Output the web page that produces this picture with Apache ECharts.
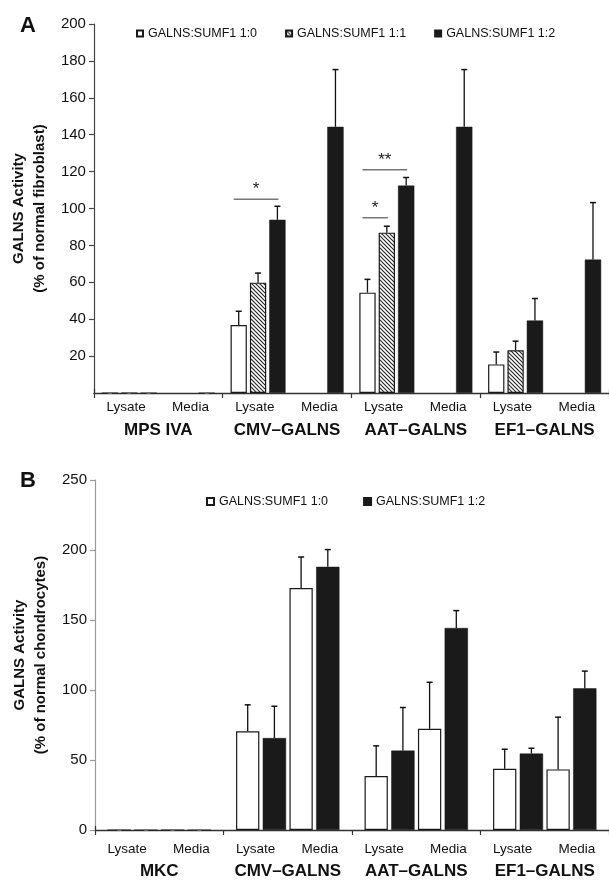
<!DOCTYPE html>
<html>
<head>
<meta charset="utf-8">
<script src="https://cdn.jsdelivr.net/npm/echarts@6/dist/echarts.min.js"></script>
<style>
html,body{margin:0;padding:0;background:#fff;}
#chart{width:609px;height:880px;}
</style>
</head>
<body>
<div id="chart"></div>
<script>
// ---------- DATA ----------
const groupsA = ['MPS IVA', 'CMV–GALNS', 'AAT–GALNS', 'EF1–GALNS'];
const groupsB = ['MKC', 'CMV–GALNS', 'AAT–GALNS', 'EF1–GALNS'];
const subLabels = ['Lysate', 'Media', 'Lysate', 'Media', 'Lysate', 'Media', 'Lysate', 'Media'];
const seriesNamesA = ['GALNS:SUMF1 1:0', 'GALNS:SUMF1 1:1', 'GALNS:SUMF1 1:2'];
const seriesNamesB = ['GALNS:SUMF1 1:0', 'GALNS:SUMF1 1:2'];

// Panel A (% of normal fibroblast)
const aLysate10 = [0, 36.8, 54.4, 15.5];
const aLysate10Err = [0, 7.5, 7.2, 6.7];
const aLysate11 = [0, 59.8, 86.9, 23.2];
const aLysate11Err = [0, 5.2, 3.5, 4.9];
const aLysate12 = [0, 93.9, 112.4, 39.3];
const aLysate12Err = [0, 7.3, 4.4, 11.9];
const aMedia10 = [null, null, null, null];
const aMedia10Err = [null, null, null, null];
const aMedia11 = [null, null, null, null];
const aMedia11Err = [null, null, null, null];
const aMedia12 = [0, 144.3, 144.3, 72.3];
const aMedia12Err = [0, 31.0, 31.0, 30.9];
const aYTicks = [0, 20, 40, 60, 80, 100, 120, 140, 160, 180, 200];

// significance brackets panel A: [group, y value, from slot, to slot]
const aSig = [[1, 105, 0, 2], [2, 95, 0, 1], [2, 121, 0, 2]];
const aSigLabels = ['*', '*', '**'];

// Panel B (% of normal chondrocytes)
const bLysate10 = [0, 70.5, 38.6, 43.8];
const bLysate10Err = [0, 18.9, 21.5, 13.9];
const bLysate12 = [0, 65.7, 56.7, 54.6];
const bLysate12Err = [0, 22.7, 30.8, 3.8];
const bMedia10 = [0, 172.8, 72.3, 43.3];
const bMedia10Err = [0, 22.2, 33.2, 37.3];
const bMedia12 = [0, 188.0, 144.3, 101.2];
const bMedia12Err = [0, 12.3, 12.4, 12.3];
const bYTicks = [0, 50, 100, 150, 200, 250];

// ---------- STYLE ----------
const FONT = '"Liberation Sans", Arial, Helvetica, sans-serif';
const INK = '#1a1a1a';

const pc = document.createElement('canvas');
pc.width = 4; pc.height = 4;
(function () {
  const c = pc.getContext('2d');
  c.fillStyle = '#ffffff'; c.fillRect(0, 0, 4, 4);
  c.strokeStyle = '#2a2a2a'; c.lineWidth = 1.2;
  c.beginPath();
  c.moveTo(-1, -1); c.lineTo(5, 5);
  c.moveTo(-3, 1); c.lineTo(3, 7);
  c.moveTo(1, -3); c.lineTo(7, 3);
  c.stroke();
})();
const hatch = { image: pc, repeat: 'repeat' };

const stWhite = { color: '#ffffff', borderColor: INK, borderWidth: 1.2 };
const stHatch = { color: hatch, borderColor: INK, borderWidth: 1.2 };
const stBlack = { color: INK, borderColor: INK, borderWidth: 0.5 };

const A = { w: 16.3, g: 3.05, n: 6 };
const B = { w: 23.3, g: 3.4, n: 4 };

function slotOffset(cfg, k) { return (k - (cfg.n - 1) / 2) * (cfg.w + cfg.g); }

function barSeries(name, data, style, gi, cfg) {
  return {
    type: 'bar', name: name, data: data,
    xAxisIndex: gi * 2, yAxisIndex: gi,
    barWidth: cfg.w, barGap: (cfg.g / cfg.w * 100).toFixed(1) + '%',
    itemStyle: style, silent: true, animation: false, z: 2
  };
}

function errSeries(vals, errs, slot, gi, cfg) {
  const d = [];
  vals.forEach((v, i) => { if (v != null && errs[i] != null) d.push([i, v, errs[i]]); });
  return {
    type: 'custom', xAxisIndex: gi * 2, yAxisIndex: gi, silent: true, animation: false, z: 3,
    data: d, encode: { x: 0, y: 1 },
    renderItem: function (params, api) {
      const i = api.value(0), v = api.value(1), e = api.value(2);
      const p0 = api.coord([i, v]);
      const p1 = api.coord([i, v + e]);
      const x = p0[0] + slotOffset(cfg, slot);
      const cap = e > 0 ? 3 : 2;
      const col = e > 0 ? '#111' : '#777';
      return {
        type: 'group', children: [
          { type: 'line', shape: { x1: x, y1: p0[1], x2: x, y2: p1[1] }, style: { stroke: col, lineWidth: 1.3 } },
          { type: 'line', shape: { x1: x - cap, y1: p1[1], x2: x + cap, y2: p1[1] }, style: { stroke: col, lineWidth: 1.5 } }
        ]
      };
    }
  };
}

function sigSeries(sig, labels, gi, cfg) {
  return {
    type: 'custom', xAxisIndex: gi * 2, yAxisIndex: gi, silent: true, animation: false, z: 3,
    data: sig, encode: { x: 0, y: 1 },
    renderItem: function (params, api) {
      const p = api.coord([api.value(0), api.value(1)]);
      const x1 = p[0] + slotOffset(cfg, api.value(2)) - 5;
      const x2 = p[0] + slotOffset(cfg, api.value(3)) + 1;
      return {
        type: 'group', children: [
          { type: 'line', shape: { x1: x1, y1: p[1], x2: x2, y2: p[1] }, style: { stroke: '#777', lineWidth: 1.5 } },
          { type: 'text', style: { text: labels[params.dataIndex], x: (x1 + x2) / 2, y: p[1] - 1,
            align: 'center', verticalAlign: 'bottom', fill: '#222', font: '17px ' + FONT } }
        ]
      };
    }
  };
}

function yAxis(gi, ticks, name, showMin, lineColor) {
  return {
    type: 'value', gridIndex: gi, min: ticks[0], max: ticks[ticks.length - 1],
    interval: ticks[1] - ticks[0],
    name: name, nameLocation: 'middle', nameGap: 41,
    nameTextStyle: { fontFamily: FONT, fontWeight: 'bold', fontSize: 15, color: '#111', lineHeight: 21 },
    axisLine: { show: true, lineStyle: { color: lineColor, width: 1.2 } },
    axisTick: { show: true, length: 5, lineStyle: { color: lineColor, width: 1.2 } },
    axisLabel: { showMinLabel: showMin, margin: 8, fontFamily: FONT, fontSize: 15, color: '#111' },
    splitLine: { show: false }
  };
}

function xAxes(gi, groups, subMargin, grpMargin) {
  return [
    {
      type: 'category', gridIndex: gi, data: groups, position: 'bottom',
      axisLine: { show: true, lineStyle: { color: '#333', width: 1.3 } },
      axisTick: { show: true, interval: 0, length: 5, lineStyle: { color: '#333', width: 1.2 } },
      axisLabel: { interval: 0, margin: grpMargin, fontFamily: FONT, fontWeight: 'bold', fontSize: 17, color: '#111' }
    },
    {
      type: 'category', gridIndex: gi, data: subLabels, position: 'bottom',
      axisLine: { show: false },
      axisTick: { show: true, inside: true, length: 4, interval: function (i) { return i === 1; },
        lineStyle: { color: '#333', width: 1.2 } },
      axisLabel: { margin: subMargin, fontFamily: FONT, fontSize: 13.5, color: '#111', interval: 0 }
    }
  ];
}

const chart = echarts.init(document.getElementById('chart'), null, { renderer: 'canvas' });

const option = {
  animation: false,
  backgroundColor: '#ffffff',
  grid: [
    { left: 92, top: 24, width: 522.4, height: 369 },
    { left: 95, top: 480, width: 520.4, height: 352.7 }
  ],
  legend: [
    { data: seriesNamesA, left: 131, top: 22, itemWidth: 6, itemHeight: 6, itemGap: 28, selectedMode: false,
      icon: 'rect', textStyle: { fontFamily: FONT, fontSize: 12.5, color: '#111' } },
    { data: seriesNamesB, left: 201, top: 490, itemWidth: 7, itemHeight: 7, itemGap: 35, selectedMode: false,
      icon: 'rect', textStyle: { fontFamily: FONT, fontSize: 12.5, color: '#111' } }
  ],
  xAxis: [].concat(xAxes(0, groupsA, 7, 29), xAxes(1, groupsB, 12, 33)),
  yAxis: [
    yAxis(0, aYTicks, 'GALNS Activity\n(% of normal fibroblast)', false, '#444'),
    yAxis(1, bYTicks, 'GALNS Activity\n(% of normal chondrocytes)', true, '#999')
  ],
  graphic: [
    { type: 'text', left: 20, top: 15, style: { text: 'A', font: 'bold 22px ' + FONT, fill: '#111' } },
    { type: 'text', left: 20, top: 470, style: { text: 'B', font: 'bold 22px ' + FONT, fill: '#111' } }
  ],
  series: [
    barSeries(seriesNamesA[0], aLysate10, stWhite, 0, A),
    barSeries(seriesNamesA[1], aLysate11, stHatch, 0, A),
    barSeries(seriesNamesA[2], aLysate12, stBlack, 0, A),
    barSeries(seriesNamesA[0], aMedia10, stWhite, 0, A),
    barSeries(seriesNamesA[1], aMedia11, stHatch, 0, A),
    barSeries(seriesNamesA[2], aMedia12, stBlack, 0, A),
    errSeries(aLysate10, aLysate10Err, 0, 0, A),
    errSeries(aLysate11, aLysate11Err, 1, 0, A),
    errSeries(aLysate12, aLysate12Err, 2, 0, A),
    errSeries(aMedia10, aMedia10Err, 3, 0, A),
    errSeries(aMedia11, aMedia11Err, 4, 0, A),
    errSeries(aMedia12, aMedia12Err, 5, 0, A),
    sigSeries(aSig, aSigLabels, 0, A),

    barSeries(seriesNamesB[0], bLysate10, stWhite, 1, B),
    barSeries(seriesNamesB[1], bLysate12, stBlack, 1, B),
    barSeries(seriesNamesB[0], bMedia10, stWhite, 1, B),
    barSeries(seriesNamesB[1], bMedia12, stBlack, 1, B),
    errSeries(bLysate10, bLysate10Err, 0, 1, B),
    errSeries(bLysate12, bLysate12Err, 1, 1, B),
    errSeries(bMedia10, bMedia10Err, 2, 1, B),
    errSeries(bMedia12, bMedia12Err, 3, 1, B)
  ]
};
chart.setOption(option);
</script>
</body>
</html>
